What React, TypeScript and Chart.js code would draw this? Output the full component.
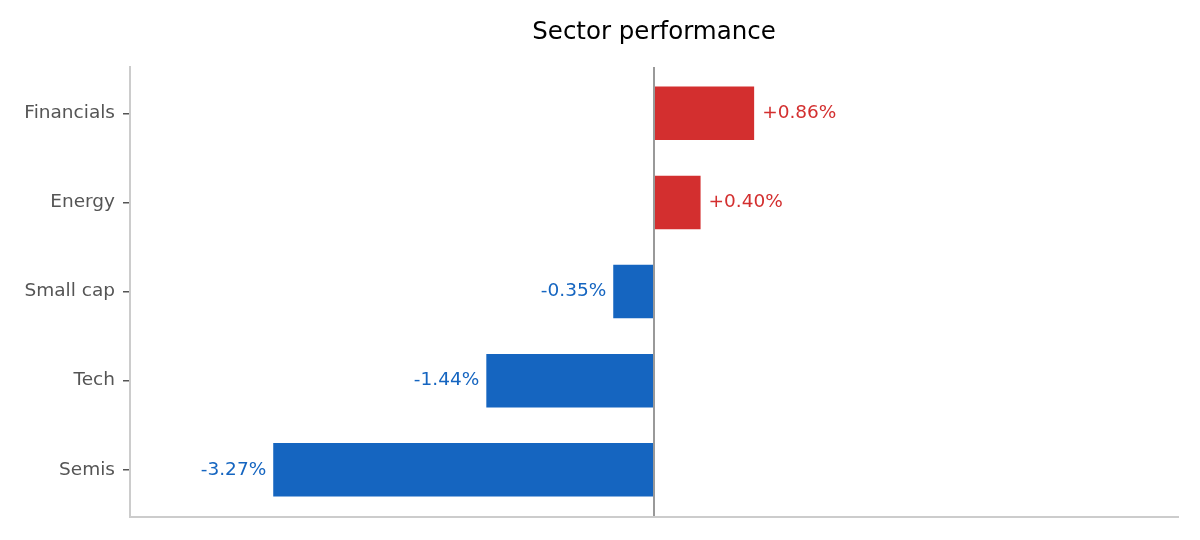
// horizontal bar chart of sector moves, chart.js
import { useEffect, useRef } from 'react';
import Chart from 'chart.js/auto';

const sectors = ['Financials', 'Energy', 'Small cap', 'Tech', 'Semis'];
const changes = [0.86, 0.40, -0.35, -1.44, -3.27];
const rows = [0, 1, 2, 3, 4]; // row position of each sector, top to bottom

const UP = '#d32f2f';
const DOWN = '#1565c0';
const FONT = '"DejaVu Sans", Verdana, sans-serif';
const TITLE = 'Sector performance';

// writes "+0.86%" etc. next to each bar end
const valueLabels = {
    id: 'valueLabels',
    afterDatasetsDraw(chart: any) {
        const { ctx } = chart;
        const meta = chart.getDatasetMeta(0);
        ctx.save();
        ctx.font = `18.5px ${FONT}`;
        ctx.textBaseline = 'middle';
        meta.data.forEach((bar: any, i: number) => {
            const v = changes[i];
            const txt = (v > 0 ? '+' : '') + v.toFixed(2) + '%';
            ctx.fillStyle = v >= 0 ? UP : DOWN;
            if (v >= 0) {
                ctx.textAlign = 'left';
                ctx.fillText(txt, bar.x + 8, bar.y);
            } else {
                ctx.textAlign = 'right';
                ctx.fillText(txt, bar.x - 7, bar.y);
            }
        });
        ctx.restore();
    }
};

// title centred over the plot area rather than the canvas
const plotTitle = {
    id: 'plotTitle',
    afterDraw(chart: any) {
        const { ctx, chartArea } = chart;
        ctx.save();
        ctx.font = `24.5px ${FONT}`;
        ctx.fillStyle = '#000';
        ctx.textAlign = 'center';
        ctx.textBaseline = 'middle';
        ctx.fillText(TITLE, (chartArea.left + chartArea.right) / 2, 33);
        ctx.restore();
    }
};

const App = () => {
    const canvasRef = useRef<HTMLCanvasElement>(null);
    const chartRef = useRef<Chart | null>(null);

    useEffect(() => {
        document.body.style.margin = '0';
        if (!canvasRef.current) return;
        if (chartRef.current) chartRef.current.destroy();

        chartRef.current = new Chart(canvasRef.current, {
            type: 'bar',
            data: {
                datasets: [{
                    data: changes.map((v, i) => ({ x: v, y: rows[i] })),
                    backgroundColor: changes.map(v => (v >= 0 ? UP : DOWN)),
                    borderWidth: 0,
                    barPercentage: 0.6,
                    categoryPercentage: 1
                }]
            },
            options: {
                indexAxis: 'y',
                animation: false,
                responsive: false,
                maintainAspectRatio: false,
                layout: { padding: { left: 0, right: 22, top: 67, bottom: 23 } },
                plugins: {
                    legend: { display: false },
                    tooltip: { enabled: false },
                    title: { display: false }
                },
                scales: {
                    x: {
                        type: 'linear',
                        min: -4.5,
                        max: 4.5,
                        ticks: { display: false, stepSize: 4.5 },
                        grid: {
                            drawTicks: false,
                            color: (c: any) => (c.tick && c.tick.value === 0 ? '#999' : 'transparent'),
                            lineWidth: 2
                        },
                        border: { color: '#ccc', width: 2 },
                        afterFit: (scale: any) => { scale.height = 0; }
                    },
                    y: {
                        type: 'linear',
                        reverse: true,
                        offset: false,
                        min: -0.52,
                        max: 4.53,
                        afterBuildTicks: (scale: any) => {
                            scale.ticks = rows.map(r => ({ value: r }));
                        },
                        ticks: {
                            color: '#555',
                            padding: 8,
                            font: { family: FONT, size: 18.5 },
                            callback: (v: any) => sectors[Number(v)] ?? ''
                        },
                        grid: {
                            offset: false,
                            drawOnChartArea: false,
                            tickLength: 7,
                            color: '#555',
                            lineWidth: 1.5
                        },
                        border: { color: '#ccc', width: 2 },
                        afterFit: (scale: any) => { scale.width = 130; }
                    }
                }
            },
            plugins: [valueLabels, plotTitle]
        });

        return () => {
            if (chartRef.current) {
                chartRef.current.destroy();
                chartRef.current = null;
            }
        };
    }, []);

    return (
        <div style={{ width: 1200, height: 540, background: '#fff' }}>
            <canvas ref={canvasRef} width={1200} height={540} style={{ width: 1200, height: 540 }}></canvas>
        </div>
    );
};

export default App;
